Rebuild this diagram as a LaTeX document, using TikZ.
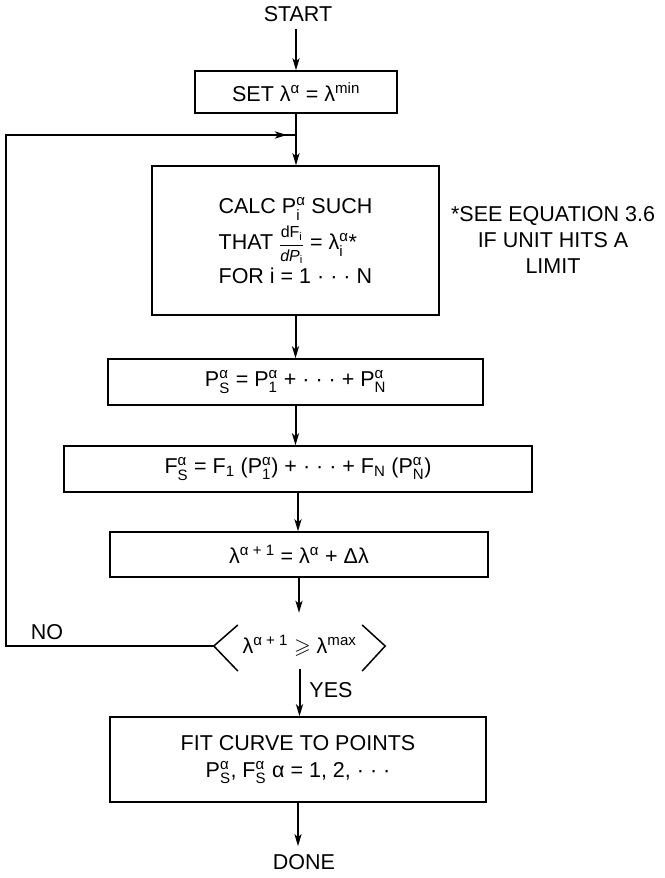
\documentclass[tikz,border=0pt]{standalone}
\usepackage{amsmath,amssymb}
\usepackage{fontspec}
\setmainfont{Liberation Sans}
\usetikzlibrary{arrows.meta}
\begin{document}
\begin{tikzpicture}[x=1pt,y=-1pt,
  every node/.style={font=\fontsize{21.5}{26}\selectfont, inner sep=0pt},
  box/.style={draw, line width=1.4pt, rectangle},
  arr/.style={line width=2pt, -{Stealth[length=12pt,width=7pt,inset=3pt]}},
  loopline/.style={line width=2.6pt},
  armline/.style={line width=1.5pt}]
\useasboundingbox (0,0) rectangle (664,878);

\node (start) at (298,14) {START};
\node[box, minimum width=202pt, minimum height=42pt] (set) at (296,92)
  {SET λ$^{\text{α}}$ = λ$^{\text{min}}$};
\coordinate (j) at (296,135);
\coordinate (ja) at (287,135);
\node[box, minimum width=287pt, minimum height=149pt, align=left] (calc) at (295.5,240.5)
  {CALC P$^{\text{α}}_{\text{i}}$ SUCH\\[5pt]
   THAT {\fontsize{16}{18}\selectfont$\dfrac{\text{dF}_{\text{i}}}{\textit{dP}_{\text{i}}}$} = λ$^{\text{α}}_{\text{i}}$*\\[3pt]
   FOR i = 1 · · · N};
\node[align=center] (note) at (553,240)
  {*SEE EQUATION 3.6\\IF UNIT HITS A\\LIMIT};
\node[box, minimum width=375pt, minimum height=46pt] (ps) at (295.5,382)
  {P$^{\text{α}}_{\text{S}}$ = P$^{\text{α}}_{\text{1}}$ + · · · + P$^{\text{α}}_{\text{N}}$};
\node[box, minimum width=468pt, minimum height=46pt] (fs) at (298,469)
  {F$^{\text{α}}_{\text{S}}$ = F$_{\text{1}}$ (P$^{\text{α}}_{\text{1}}$) + · · · + F$_{\text{N}}$ (P$^{\text{α}}_{\text{N}}$)};
\node[box, minimum width=378pt, minimum height=45pt] (lam) at (299,554.5)
  {λ$^{\text{α + 1}}$ = λ$^{\text{α}}$ + Δλ};
\node[minimum width=171pt, minimum height=46pt] (dec) at (299.5,646)
  {λ$^{\text{α + 1}}$ $\geqslant$ λ$^{\text{max}}$};
\draw[armline] ([shift={(24,-21)}]dec.west) -- (dec.west) -- ([shift={(24,25)}]dec.west);
\draw[armline] ([shift={(-23,-21)}]dec.east) -- (dec.east) -- ([shift={(-23,25)}]dec.east);
\node[box, minimum width=376pt, minimum height=85pt, align=center] (fit) at (298,759.5)
  {FIT CURVE TO POINTS\\[1pt]
   P$^{\text{α}}_{\text{S}}$, F$^{\text{α}}_{\text{S}}$ α = 1, 2, · · ·};
\node (done) at (304,862) {DONE};
\node (no) at (47,632) {NO};
\node (yes) at (331,690) {YES};

\coordinate (lc1) at (6,646);
\coordinate (lc2) at (6,135);

\draw[arr, shorten <=7pt] (start.south -| set.north) -- (set.north);
\draw[line width=2pt] (set.south) -- (j);
\draw[arr] (j) -- (j |- calc.north);
\draw[loopline] (dec.west) -- (lc1) -- (lc2) -- (ja);
\draw[arr, line width=2.6pt] (lc2) -- (ja);
\draw[line width=2pt] (ja) -- (j);
\draw[arr] (calc.south) -- (calc.south |- ps.north);
\draw[arr] (ps.south) -- (ps.south |- fs.north);
\draw[arr] (fs.south) -- (fs.south |- lam.north);
\draw[arr, shorten >=10pt] (lam.south) -- (lam.south |- dec.north);
\draw[arr] (dec.south) -- (dec.south |- fit.north);
\draw[arr, shorten >=8pt] (fit.south) -- (fit.south |- done.north);
\end{tikzpicture}
\end{document}
